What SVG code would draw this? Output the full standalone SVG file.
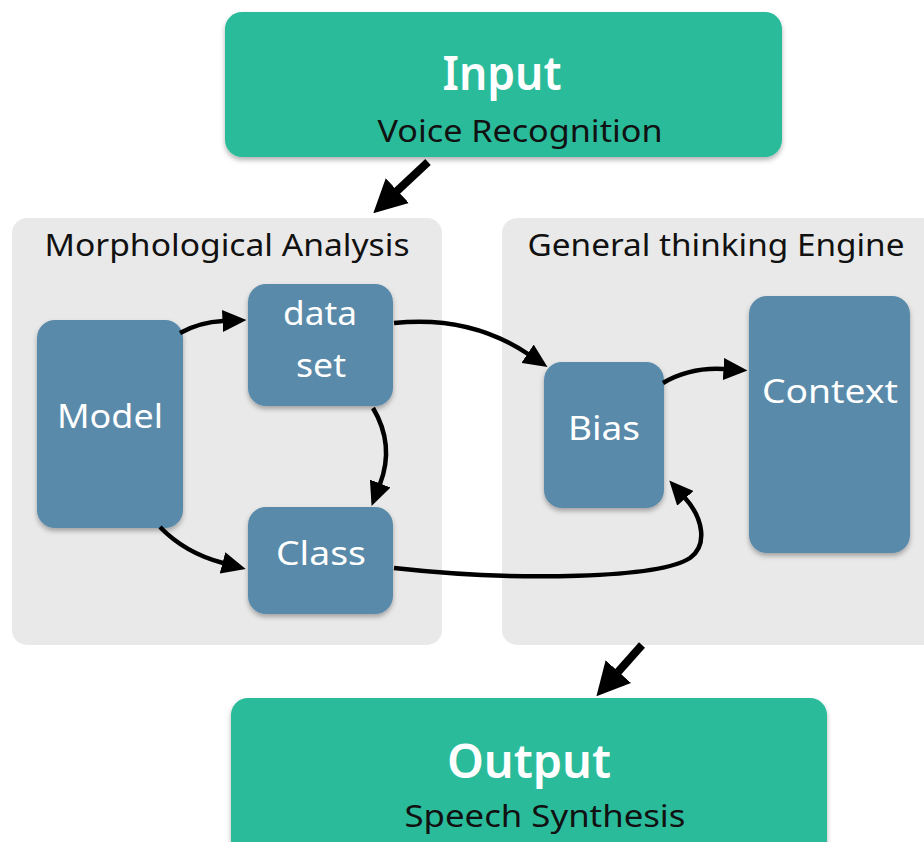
<svg xmlns="http://www.w3.org/2000/svg" width="924" height="842" viewBox="0 0 924 842">
  <defs>
    <filter id="shadow" x="-10%" y="-10%" width="120%" height="125%">
      <feDropShadow dx="0" dy="3" stdDeviation="2.5" flood-color="#000" flood-opacity="0.3"/>
    </filter>
    <marker id="head" markerUnits="userSpaceOnUse" viewBox="0 0 24 22" markerWidth="24" markerHeight="22" refX="0.5" refY="11" orient="auto">
      <path d="M0,0 L24,11 L0,22 z" fill="#000"/>
    </marker>
    <marker id="bighead" markerUnits="userSpaceOnUse" viewBox="0 0 33 34" markerWidth="33" markerHeight="34" refX="0.5" refY="17" orient="auto">
      <path d="M0,0 L33,17 L0,34 z" fill="#000"/>
    </marker>
  </defs>
  <style>
    .io { fill: #2bbb9b; filter: url(#shadow); }
    .panel { fill: #e9e9e9; }
    .node { fill: #5a8aaa; filter: url(#shadow); }
    text { font-family: "Noto Sans", "DejaVu Sans", sans-serif; text-anchor: middle; }
    .title { font-size: 46px; font-weight: 600; fill: #fff; }
    .sub { font-size: 30px; fill: #111; }
    .plabel { font-size: 30px; fill: #111; }
    .nlabel { font-size: 32px; fill: #fff; }
    .edge { fill: none; stroke: #000; stroke-width: 4.5; marker-end: url(#head); }
    .flow { fill: none; stroke: #000; stroke-width: 8; marker-end: url(#bighead); }
  </style>

  <rect width="924" height="842" fill="#fff"/>

  <!-- grouping panels -->
  <g id="morphological-analysis">
    <rect class="panel" x="12" y="218" width="430" height="427" rx="15"/>
    <text class="plabel" x="227" y="256" textLength="365" lengthAdjust="spacingAndGlyphs">Morphological Analysis</text>
  </g>
  <g id="general-thinking-engine">
    <rect class="panel" x="502" y="218" width="440" height="427" rx="15"/>
    <text class="plabel" x="716" y="256" textLength="377" lengthAdjust="spacingAndGlyphs">General thinking Engine</text>
  </g>

  <!-- input / output -->
  <g id="input">
    <rect class="io" x="225" y="12" width="557" height="145" rx="17"/>
    <text class="title" x="502" y="90" textLength="119" lengthAdjust="spacingAndGlyphs">Input</text>
    <text class="sub" x="520" y="142" textLength="285" lengthAdjust="spacingAndGlyphs">Voice Recognition</text>
  </g>
  <g id="output">
    <rect class="io" x="231" y="698" width="596" height="160" rx="17"/>
    <text class="title" x="529" y="778" textLength="164" lengthAdjust="spacingAndGlyphs">Output</text>
    <text class="sub" x="545" y="827" textLength="281" lengthAdjust="spacingAndGlyphs">Speech Synthesis</text>
  </g>

  <!-- inner nodes -->
  <g id="model">
    <rect class="node" x="37" y="320" width="146" height="208" rx="18"/>
    <text class="nlabel" x="110" y="428" textLength="106" lengthAdjust="spacingAndGlyphs">Model</text>
  </g>
  <g id="dataset">
    <rect class="node" x="248" y="284" width="145" height="122" rx="18"/>
    <text class="nlabel" x="320" y="325" textLength="74" lengthAdjust="spacingAndGlyphs">data</text>
    <text class="nlabel" x="321" y="377" textLength="50" lengthAdjust="spacingAndGlyphs">set</text>
  </g>
  <g id="class">
    <rect class="node" x="248" y="507" width="145" height="107" rx="18"/>
    <text class="nlabel" x="321" y="565" textLength="90" lengthAdjust="spacingAndGlyphs">Class</text>
  </g>
  <g id="bias">
    <rect class="node" x="544" y="362" width="120" height="146" rx="18"/>
    <text class="nlabel" x="604" y="440" textLength="72" lengthAdjust="spacingAndGlyphs">Bias</text>
  </g>
  <g id="context">
    <rect class="node" x="749" y="296" width="161" height="257" rx="18"/>
    <text class="nlabel" x="830" y="403" textLength="136" lengthAdjust="spacingAndGlyphs">Context</text>
  </g>

  <!-- connectors -->
  <g id="connectors">
    <path class="flow" d="M428,162 L397,191"/>
    <path class="flow" d="M642,645 L618,672"/>
    <path class="edge" d="M180,333 Q200,322 223,321"/>
    <path class="edge" d="M160,527 Q185,553 223,563"/>
    <path class="edge" d="M373,408 Q395,445 380,484"/>
    <path class="edge" d="M394,323 Q470,315 528,354"/>
    <path class="edge" d="M663,383 Q690,367 724,369"/>
    <path class="edge" d="M394,568 C520,582 660,578 690,558 C708,545 703,518 685,498"/>
  </g>
</svg>
